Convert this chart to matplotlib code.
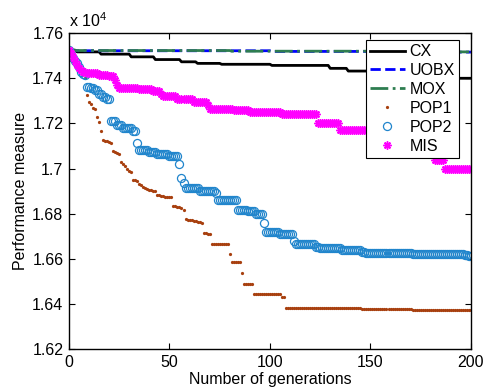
import numpy as np
import matplotlib
matplotlib.use("Agg")
import matplotlib.pyplot as plt
from matplotlib.ticker import FuncFormatter

plt.rcParams['font.family'] = ['Liberation Sans', 'DejaVu Sans']
plt.rcParams['mathtext.fontset'] = 'custom'
plt.rcParams['mathtext.rm'] = 'Liberation Sans'

# ---- data (run-length encoded best-so-far values, generations 0..200) ----
generations = np.arange(0, 201)

cx_levels = [17525, 17517, 17507, 17495, 17483, 17473, 17466, 17462, 17457,
             17444, 17432, 17415, 17400]
cx_runs = [4, 12, 15, 12, 13, 8, 12, 25, 29, 9, 27, 20, 15]

uobx_levels = [17525, 17522, 17519, 17516]
uobx_runs = [1, 100, 60, 40]

mox_levels = [17525, 17523, 17520, 17517]
mox_runs = [1, 80, 70, 50]

pop1_levels = [17525, 17505, 17490, 17478, 17460, 17445, 17432, 17420, 17400,
               17325, 17295, 17285, 17270, 17265, 17228, 17205, 17168, 17128,
               17124, 17120, 17116, 17112, 17078, 17072, 17068, 17064, 17028,
               17020, 17010, 17000, 16990, 16984, 16950, 16948, 16945, 16932,
               16928, 16920, 16913, 16910, 16907, 16905, 16902, 16899, 16884,
               16882, 16880, 16878, 16876, 16875, 16873, 16872, 16834, 16833,
               16831, 16829, 16826, 16818, 16776, 16774, 16772, 16770, 16768,
               16766, 16764, 16762, 16758, 16716, 16714, 16712, 16708,
               16665, 16621, 16585, 16537, 16488, 16446, 16442, 16430, 16384,
               16381, 16376, 16371]
pop1_runs = [1] * 71 + [9, 1, 5, 1, 5, 7, 7, 2, 18, 20, 25, 30]

pop2_levels = [17525, 17505, 17489, 17478, 17467, 17450, 17430, 17420, 17415,
               17362, 17355, 17346, 17330, 17318, 17308, 17210, 17195, 17180,
               17165, 17115, 17080, 17072, 17065, 17055, 17020, 16960, 16935,
               16912, 16900, 16890, 16862, 16818, 16810, 16800, 16760, 16718,
               16710, 16680, 16665, 16652, 16646, 16640, 16632, 16626, 16622,
               16618, 16612]
pop2_runs = [1, 1, 1, 1, 1, 1, 1, 1, 1,
             2, 2, 2, 2, 2, 2, 3, 3, 5,
             2, 1, 5, 4, 6, 5, 1, 1, 1,
             7, 8, 1, 10, 5, 4, 4, 1, 7,
             7, 1, 10, 2, 11, 10, 2, 23, 26,
             2, 2]

mis_levels = [17525, 17510, 17495, 17475, 17460, 17445, 17435, 17428, 17423,
              17416, 17410, 17392, 17370, 17358, 17352, 17345, 17330, 17322,
              17310, 17295, 17280, 17266, 17258, 17250, 17240, 17200, 17170,
              17100, 17040, 17000]
mis_runs = [1, 1, 1, 1, 1, 1, 1, 2, 6,
            5, 3, 1, 1, 10, 7, 4, 1, 7,
            8, 7, 1, 12, 8, 16, 18, 11, 31,
            16, 5, 14]

labels = ['CX', 'UOBX', 'MOX', 'POP1', 'POP2', 'MIS']
x_ticks = [0, 50, 100, 150, 200]
y_ticks = [16200, 16400, 16600, 16800, 17000, 17200, 17400, 17600]


def expand(levels, runs):
    return np.repeat(np.array(levels, dtype=float), runs)


cx = expand(cx_levels, cx_runs)
uobx = expand(uobx_levels, uobx_runs)
mox = expand(mox_levels, mox_runs)
pop1 = expand(pop1_levels, pop1_runs)
pop2 = expand(pop2_levels, pop2_runs)
mis = expand(mis_levels, mis_runs)

FS = 11.5

# ---- figure ----
fig = plt.figure(figsize=(4.89, 3.90), dpi=100)
ax = fig.add_axes([0.141, 0.105, 0.822, 0.810])

ax.plot(generations, cx, color='black', lw=2.0, label=labels[0])
ax.plot(generations, uobx, color='#0000FF', lw=2.0, ls='--', label=labels[1])
ax.plot(generations, mox, color='#2E7D50', lw=2.0, ls='-.', label=labels[2])
ax.plot(generations, pop1, ls='none', marker='.', ms=2.6, color='#A8400F',
        label=labels[3])
ax.plot(generations, pop2, ls='none', marker='o', ms=5.8, mfc='none',
        mec='#2085CC', mew=0.9, label=labels[4])
ax.plot(generations, mis, ls='none', marker=(8, 2, 0), ms=5.8, mew=1.1,
        color='#FF00FF', label=labels[5])

ax.set_xlim(0, 200)
ax.set_ylim(16200, 17600)
ax.set_xticks(x_ticks)
ax.set_yticks(y_ticks)
ax.yaxis.set_major_formatter(FuncFormatter(lambda v, p: ('%g' % (v / 1e4))))
ax.tick_params(direction='in', length=4, width=0.8, top=True, right=True,
               labelsize=FS, pad=4)
for s in ax.spines.values():
    s.set_linewidth(1.0)

ax.text(0.0, 1.01, 'x 10$^{4}$', transform=ax.transAxes, ha='left',
        va='bottom', fontsize=FS)

ax.set_xlabel('Number of generations', fontsize=FS, labelpad=2)
ax.set_ylabel('Performance measure', fontsize=FS, labelpad=3)

leg = ax.legend(loc='upper right', bbox_to_anchor=(0.97, 0.978),
                borderaxespad=0, fancybox=False, framealpha=1,
                edgecolor='black', fontsize=FS, numpoints=1,
                handlelength=2.2, labelspacing=0.25, handletextpad=0.3,
                borderpad=0.25)
leg.get_frame().set_linewidth(0.8)

fig.savefig('out.png', dpi=100)
